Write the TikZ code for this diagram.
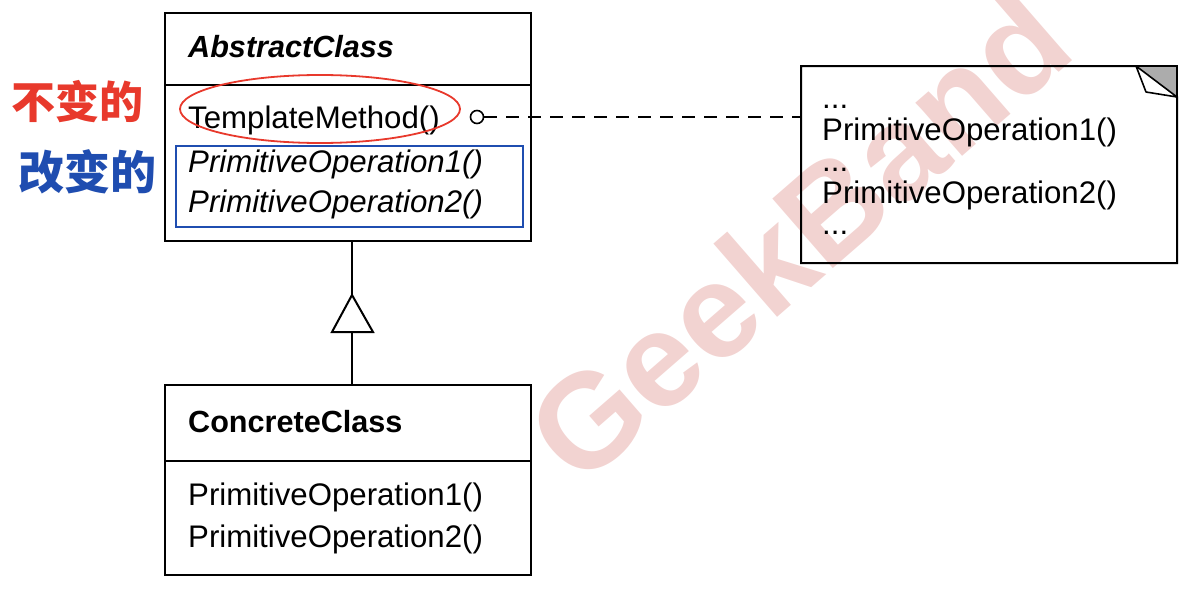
\documentclass[tikz,border=0pt]{standalone}
\usepackage{fontspec}
\setmainfont{Liberation Sans}
\newfontfamily\cjk{Noto Sans CJK SC}
\usetikzlibrary{shapes.geometric}
\definecolor{wm}{HTML}{F2D3D1}
\definecolor{hred}{HTML}{E8392C}
\definecolor{hblue}{HTML}{1F4DB0}
\tikzset{
  umlbox/.style={draw=black, line width=2pt},
  txt/.style={anchor=base west, inner sep=0pt, font=\fontsize{31.2}{31}\selectfont},
  cjktxt/.style={anchor=center, inner sep=0pt, font=\cjk\bfseries\fontsize{44}{44}\selectfont},
}
\begin{document}
\begin{tikzpicture}[x=1pt,y=-1pt]
\useasboundingbox (0,0) rectangle (1196,589);
% watermark
\node[rotate=41, text=wm, font=\bfseries\fontsize{134}{134}\selectfont, inner sep=0pt] (wmk) at (798,236) {GeekBand};
% AbstractClass
\draw[umlbox] (165,13) rectangle (531,241);
\draw[umlbox] (165,85) -- (531,85);
\node[txt, font=\bfseries\itshape\fontsize{30.6}{31}\selectfont] (abs) at (188,57) {AbstractClass};
\node[txt] (tm) at (188,128) {TemplateMethod()};
\node[txt, font=\itshape\fontsize{31.2}{31}\selectfont] (po1) at (188,172) {PrimitiveOperation1()};
\node[txt, font=\itshape\fontsize{31.2}{31}\selectfont] (po2) at (188,212) {PrimitiveOperation2()};
% annotations
\draw[hred, line width=1.8pt] (320,109) ellipse [x radius=140, y radius=34];
\draw[hblue, line width=1.8pt] (176,146) rectangle (523,227);
\node[cjktxt, text=hred] (inv) at (78,102) {不变的};
\node[cjktxt, text=hblue, font=\cjk\bfseries\fontsize{46}{46}\selectfont] (var) at (87,172) {改变的};
% ConcreteClass
\draw[umlbox] (165,385) rectangle (531,575);
\draw[umlbox] (165,461) -- (531,461);
\node[txt, font=\bfseries\fontsize{30.6}{31}\selectfont] (cc) at (188,432) {ConcreteClass};
\node[txt] (cpo1) at (188,505) {PrimitiveOperation1()};
\node[txt] (cpo2) at (188,547) {PrimitiveOperation2()};
% inheritance
\coordinate (absb) at (352,241);
\coordinate (cct) at (352,385);
\coordinate (apex) at (352,295);
\coordinate (base) at (352,332);
\draw[line width=2pt] (absb) -- (apex);
\draw[line width=2pt, fill=white, line join=miter] (apex) -- (373,332) -- (332,332) -- cycle;
\draw[line width=2pt] (base) -- (cct);
% note
\draw[umlbox] (801,66) -- (1136,66) -- (1177,97) -- (1177,263) -- (801,263) -- cycle;
\fill[gray!65] (1136,66) -- (1177,66) -- (1177,97) -- cycle;
\draw[line width=1.6pt, fill=white, line join=round] (1136,66) -- (1146,92) -- (1177,97) -- cycle;
\draw[line width=1.6pt] (1136,66) -- (1177,66) -- (1177,97);
\node[txt] (d1) at (822,108) {...};
\node[txt] (n1) at (822,140) {PrimitiveOperation1()};
\node[txt] (d2) at (822,171) {...};
\node[txt] (n2) at (822,203) {PrimitiveOperation2()};
\node[txt] (d3) at (822,234) {...};
% note link
\node[circle, draw, line width=1.6pt, minimum size=13pt, inner sep=0pt] (dot) at (477,117) {};
\coordinate (notel) at (801,117);
\draw[line width=2pt, dash pattern=on 13pt off 9pt] (dot.east) -- (notel);
\end{tikzpicture}
\end{document}
